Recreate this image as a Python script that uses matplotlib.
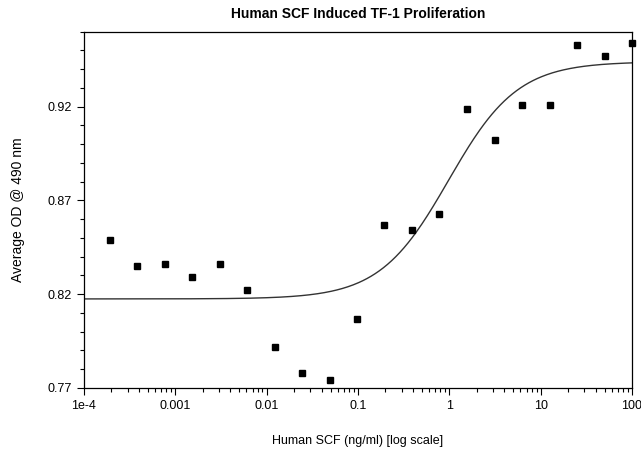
import matplotlib
matplotlib.use('Agg')
import matplotlib.pyplot as plt
import numpy as np
from matplotlib.ticker import FixedLocator, LogLocator, NullFormatter

# two-fold dilution series of SCF (ng/ml)
conc = [0.000191, 0.000381, 0.000763, 0.00153, 0.00305, 0.0061, 0.0122, 0.0244,
        0.0488, 0.0977, 0.195, 0.39, 0.78, 1.5625, 3.125, 6.25, 12.5, 25, 50, 100]
od = [0.849, 0.835, 0.836, 0.829, 0.836, 0.822, 0.792, 0.778,
      0.774, 0.807, 0.857, 0.854, 0.863, 0.919, 0.902, 0.921, 0.921, 0.953, 0.947, 0.954]

# 4PL fit parameters
bottom = 0.8175
top = 0.944
ec50 = 0.98
hill = 1.15

xticks = [1e-4, 1e-3, 1e-2, 1e-1, 1, 10, 100]
xticklabels = ['1e-4', '0.001', '0.01', '0.1', '1', '10', '100']
yticks = [0.77, 0.82, 0.87, 0.92]
yticklabels = ['0.77', '0.82', '0.87', '0.92']

plt.rcParams['font.family'] = ['Liberation Sans', 'DejaVu Sans']

fig = plt.figure(figsize=(6.41, 4.53), dpi=100)
ax = fig.add_axes([0.131, 0.1435, 0.855, 0.7865])

xc = np.logspace(-4, 2, 400)
yc = bottom + (top - bottom) / (1 + (ec50 / xc) ** hill)
ax.plot(xc, yc, color='#333333', lw=1.0)
ax.plot(conc, od, 's', color='black', ms=5, clip_on=False)

ax.set_xscale('log')
ax.set_xlim(1e-4, 100)
ax.set_ylim(0.77, 0.96)

ax.xaxis.set_major_locator(FixedLocator(xticks))
ax.set_xticklabels(xticklabels)
ax.xaxis.set_minor_locator(LogLocator(base=10, subs=np.arange(2, 10)))
ax.xaxis.set_minor_formatter(NullFormatter())
ax.yaxis.set_major_locator(FixedLocator(yticks))
ax.set_yticklabels(yticklabels)
ax.yaxis.set_minor_locator(FixedLocator(np.arange(0.77, 0.961, 0.01)))

ax.tick_params(which='major', direction='out', length=5, width=0.8, labelsize=9, pad=4)
ax.tick_params(which='minor', direction='out', length=3, width=0.8)
ax.tick_params(top=False, right=False)
for s in ax.spines.values():
    s.set_linewidth(0.9)

ax.set_xlabel('Human SCF (ng/ml) [log scale]', fontsize=9, labelpad=16)
ax.set_ylabel('Average OD @ 490 nm', fontsize=10, labelpad=16)
ax.set_title('Human SCF Induced TF-1 Proliferation', fontsize=10,
             fontweight='bold', pad=10)

fig.savefig('out.png', dpi=100)
